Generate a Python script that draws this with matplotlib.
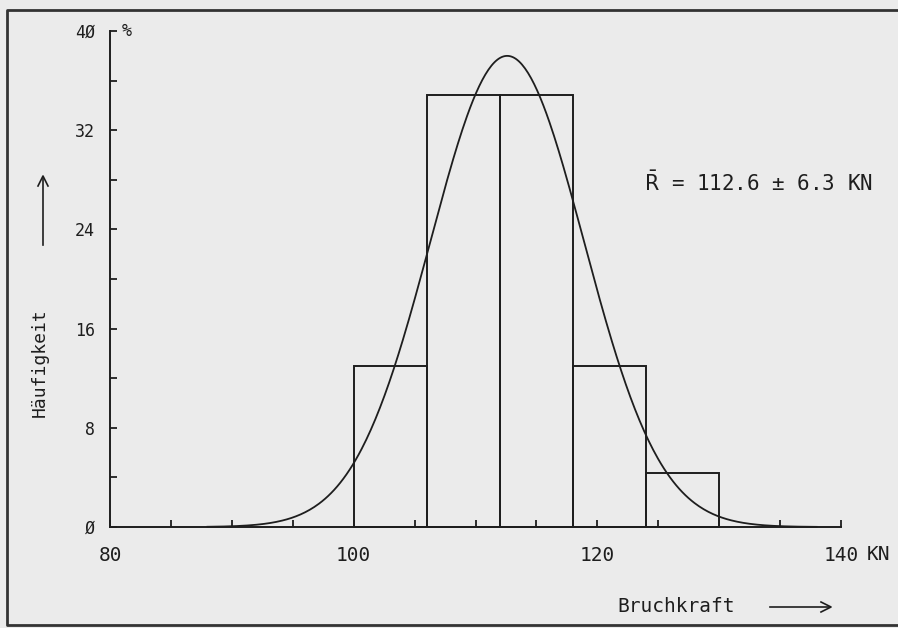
import numpy as np
import matplotlib.pyplot as plt
from matplotlib.lines import Line2D

# Klassen (KN) und Haeufigkeiten in %
bin_edges = [100, 106, 112, 118, 124, 130]
freq = [13.0, 34.8, 34.8, 13.0, 4.35]

# Mittelwert / Streuung aus der Beschriftung
r_mean = 112.6
r_std = 6.3

xticks = [80, 85, 90, 95, 100, 105, 110, 115, 120, 125, 130, 135, 140]
xlabels = ['80', '', '', '', '100', '', '', '', '120', '', '', '', '140']
yticks = [0, 4, 8, 12, 16, 20, 24, 28, 32, 36, 40]
ylabels = ['\u00d8', '', '8', '', '16', '', '24', '', '32', '', '4\u00d8']

bg = '#ebebeb'
ink = '#1e1e1e'
mono = 'DejaVu Sans Mono'

fig = plt.figure(figsize=(8.98, 6.28), dpi=100, facecolor=bg)
W, H = 898, 628
ax = fig.add_axes([110 / W, 1 - 527 / H, 731 / W, 496 / H])
ax.set_facecolor('none')

# Histogramm (nur Umrisse)
widths = np.diff(bin_edges)
ax.bar(bin_edges[:-1], freq, width=widths, align='edge', facecolor='none',
       edgecolor=ink, linewidth=1.4, clip_on=False)

# Normalverteilung, skaliert auf Klassenbreite 6 KN in %
xc = np.linspace(88, 138, 400)
yc = 100 * widths[0] / (r_std * np.sqrt(2 * np.pi)) * np.exp(-0.5 * ((xc - r_mean) / r_std) ** 2)
ax.plot(xc, yc, color=ink, linewidth=1.3, clip_on=False)

ax.set_xlim(80, 140)
ax.set_ylim(0, 40)
for s in ['top', 'right']:
    ax.spines[s].set_visible(False)
for s in ['left', 'bottom']:
    ax.spines[s].set_color(ink)
    ax.spines[s].set_linewidth(1.4)

ax.set_xticks(xticks)
ax.set_xticklabels(xlabels, fontfamily=mono, fontsize=14, color=ink)
ax.set_yticks(yticks)
ax.set_yticklabels(ylabels, fontfamily=mono, fontsize=12, color=ink)
ax.tick_params(axis='both', direction='in', length=5, width=1.3, color=ink)
ax.tick_params(axis='x', pad=14)
ax.tick_params(axis='y', pad=11)

ax.text(81.0, 40, '%', fontfamily=mono, fontsize=12, color=ink, va='center', ha='left')
ax.text(143.1, -2.2, 'KN', fontfamily=mono, fontsize=14, color=ink, va='center', ha='center')

# Achsenbeschriftungen
fig.text(40 / W, 1 - 363 / H, 'Häufigkeit', rotation=90, fontfamily=mono, fontsize=13,
         color=ink, ha='center', va='center')
fig.add_artist(Line2D([43 / W, 43 / W], [1 - 245 / H, 1 - 177 / H], color=ink, linewidth=1.2))
fig.add_artist(Line2D([38 / W, 43 / W, 48 / W], [1 - 186 / H, 1 - 176 / H, 1 - 186 / H],
                      color=ink, linewidth=1.2))

fig.text(676 / W, 1 - 607 / H, 'Bruchkraft', fontfamily=mono, fontsize=14, color=ink,
         ha='center', va='center')
fig.add_artist(Line2D([770 / W, 830 / W], [1 - 607 / H, 1 - 607 / H], color=ink, linewidth=1.2))
fig.add_artist(Line2D([821 / W, 831 / W, 821 / W], [1 - 602 / H, 1 - 607 / H, 1 - 612 / H],
                      color=ink, linewidth=1.2))

fig.text(758 / W, 1 - 183 / H, r'$\bar{\mathsf{R}}$ = 112.6 ± 6.3 KN', fontfamily=mono,
         fontsize=15, color=ink, ha='center', va='center')

# Rahmen
fig.add_artist(Line2D([1.0, 7 / W, 7 / W, 1.0], [1 - 10 / H, 1 - 10 / H, 1 - 625 / H, 1 - 625 / H],
                      color='#333333', linewidth=2.0))

fig.savefig('out.png', dpi=100, facecolor=bg)
